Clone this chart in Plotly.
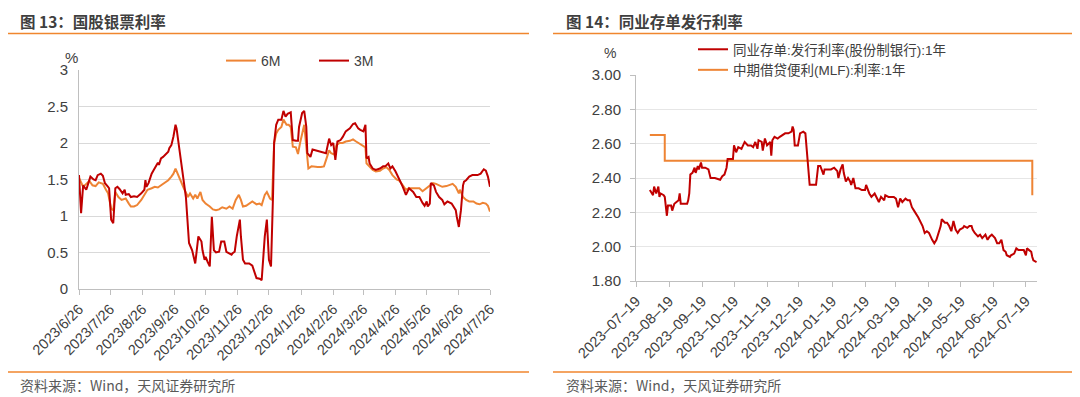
import plotly.graph_objects as go

# ---------------- data: 图13 国股银票利率 ----------------
dates_3m = [
    "2023-06-26", "2023-06-28", "2023-06-30", "2023-07-03", "2023-07-05", "2023-07-07", "2023-07-10",
    "2023-07-12", "2023-07-14", "2023-07-17", "2023-07-19", "2023-07-21", "2023-07-24", "2023-07-25",
    "2023-07-27", "2023-07-29", "2023-07-31", "2023-08-02", "2023-08-04", "2023-08-07", "2023-08-09",
    "2023-08-10", "2023-08-13", "2023-08-15", "2023-08-18", "2023-08-21", "2023-08-25", "2023-08-28",
    "2023-08-29", "2023-08-30", "2023-09-01", "2023-09-04", "2023-09-06", "2023-09-08", "2023-09-10",
    "2023-09-11", "2023-09-13", "2023-09-15", "2023-09-18", "2023-09-20", "2023-09-21", "2023-09-23",
    "2023-09-25", "2023-09-27", "2023-09-28", "2023-10-01", "2023-10-04", "2023-10-07", "2023-10-10",
    "2023-10-13", "2023-10-16", "2023-10-19", "2023-10-22", "2023-10-23", "2023-10-25", "2023-10-26",
    "2023-10-28", "2023-10-30", "2023-11-01", "2023-11-03", "2023-11-05", "2023-11-08", "2023-11-10",
    "2023-11-13", "2023-11-15", "2023-11-17", "2023-11-20", "2023-11-21", "2023-11-23", "2023-11-25",
    "2023-11-28", "2023-11-29", "2023-12-01", "2023-12-03", "2023-12-07", "2023-12-10", "2023-12-14",
    "2023-12-17", "2023-12-19", "2023-12-22", "2023-12-24", "2023-12-26", "2023-12-28", "2023-12-30",
    "2023-12-31", "2024-01-02", "2024-01-04", "2024-01-07", "2024-01-09", "2024-01-11", "2024-01-13",
    "2024-01-16", "2024-01-18", "2024-01-21", "2024-01-23", "2024-01-24", "2024-01-27", "2024-01-29",
    "2024-01-31", "2024-02-01", "2024-02-04", "2024-02-06", "2024-02-09", "2024-02-13", "2024-02-16",
    "2024-02-19", "2024-02-22", "2024-02-24", "2024-02-26", "2024-02-28", "2024-03-01", "2024-03-04",
    "2024-03-06", "2024-03-09", "2024-03-13", "2024-03-16", "2024-03-18", "2024-03-21", "2024-03-23",
    "2024-03-26", "2024-03-28", "2024-03-29", "2024-03-31", "2024-04-01", "2024-04-04", "2024-04-07",
    "2024-04-11", "2024-04-14", "2024-04-16", "2024-04-19", "2024-04-21", "2024-04-23", "2024-04-26",
    "2024-04-28", "2024-04-30", "2024-05-03", "2024-05-06", "2024-05-09", "2024-05-13", "2024-05-16",
    "2024-05-19", "2024-05-22", "2024-05-24", "2024-05-26", "2024-05-27", "2024-05-29", "2024-05-30",
    "2024-06-02", "2024-06-04", "2024-06-07", "2024-06-10", "2024-06-12", "2024-06-15", "2024-06-19",
    "2024-06-21", "2024-06-23", "2024-06-24", "2024-06-26", "2024-06-27", "2024-06-28", "2024-06-30",
    "2024-07-01", "2024-07-03", "2024-07-06", "2024-07-09", "2024-07-14", "2024-07-17", "2024-07-20",
    "2024-07-22", "2024-07-24", "2024-07-26",
]
rate_3m = [
    1.56, 1.04, 1.42, 1.36, 1.45, 1.54, 1.50,
    1.49, 1.56, 1.58, 1.55, 1.45, 1.40, 1.38,
    0.95, 0.90, 1.38, 1.40, 1.37, 1.31, 1.36,
    1.29, 1.30, 1.26, 1.27, 1.26, 1.31, 1.36,
    1.49, 1.40, 1.45, 1.58, 1.63, 1.68, 1.73,
    1.70, 1.79, 1.81, 1.85, 1.88, 1.93, 1.97,
    2.09, 2.25, 2.20, 1.90, 1.58, 1.26, 0.63,
    0.53, 0.35, 0.72, 0.65, 0.53, 0.40, 0.44,
    0.37, 0.31, 0.99, 0.53, 0.50, 0.51, 0.65,
    0.65, 0.51, 0.49, 0.47, 0.49, 0.51, 0.72,
    0.95, 0.72, 0.40, 0.35, 0.35, 0.32, 0.15,
    0.14, 0.12, 0.72, 0.95, 0.40, 0.31, 1.31,
    2.00, 2.25, 2.32, 2.32, 2.44, 2.36, 2.40,
    2.42, 2.04, 2.03, 2.03, 2.22, 2.41, 2.44,
    2.22, 1.86, 1.81, 1.91, 1.90, 1.88, 1.87,
    1.86, 2.06, 1.97, 2.00, 1.77, 2.02, 2.04,
    2.08, 2.16, 2.20, 2.26, 2.27, 2.20, 2.18,
    2.16, 2.25, 1.79, 1.81, 1.72, 1.65, 1.63,
    1.65, 1.68, 1.68, 1.72, 1.65, 1.68, 1.61,
    1.56, 1.49, 1.40, 1.29, 1.38, 1.33, 1.26,
    1.26, 1.18, 1.14, 1.20, 1.13, 1.17, 1.45,
    1.42, 1.33, 1.26, 1.22, 1.16, 1.20, 1.17,
    1.13, 1.08, 0.99, 0.85, 0.97, 1.08, 1.42,
    1.47, 1.49, 1.54, 1.56, 1.56, 1.58, 1.64,
    1.62, 1.54, 1.40,
]

dates_6m = [
    "2023-06-26", "2023-06-30", "2023-07-03", "2023-07-06", "2023-07-09", "2023-07-12", "2023-07-15",
    "2023-07-19", "2023-07-22", "2023-07-24", "2023-07-27", "2023-07-29", "2023-07-31", "2023-08-03",
    "2023-08-06", "2023-08-10", "2023-08-13", "2023-08-15", "2023-08-18", "2023-08-21", "2023-08-25",
    "2023-08-28", "2023-08-31", "2023-09-04", "2023-09-07", "2023-09-10", "2023-09-13", "2023-09-16",
    "2023-09-20", "2023-09-23", "2023-09-25", "2023-09-27", "2023-09-29", "2023-10-02", "2023-10-05",
    "2023-10-09", "2023-10-11", "2023-10-14", "2023-10-16", "2023-10-18", "2023-10-21", "2023-10-23",
    "2023-10-26", "2023-10-30", "2023-11-02", "2023-11-05", "2023-11-08", "2023-11-11", "2023-11-15",
    "2023-11-18", "2023-11-21", "2023-11-24", "2023-11-27", "2023-11-29", "2023-12-01", "2023-12-04",
    "2023-12-07", "2023-12-10", "2023-12-14", "2023-12-17", "2023-12-19", "2023-12-22", "2023-12-24",
    "2023-12-27", "2023-12-29", "2023-12-31", "2024-01-02", "2024-01-04", "2024-01-07", "2024-01-09",
    "2024-01-12", "2024-01-14", "2024-01-16", "2024-01-18", "2024-01-21", "2024-01-23", "2024-01-25",
    "2024-01-28", "2024-01-29", "2024-01-31", "2024-02-02", "2024-02-05", "2024-02-08", "2024-02-11",
    "2024-02-14", "2024-02-17", "2024-02-20", "2024-02-22", "2024-02-24", "2024-02-27", "2024-02-29",
    "2024-03-03", "2024-03-06", "2024-03-09", "2024-03-13", "2024-03-16", "2024-03-19", "2024-03-22",
    "2024-03-26", "2024-03-28", "2024-03-29", "2024-04-01", "2024-04-04", "2024-04-07", "2024-04-11",
    "2024-04-14", "2024-04-17", "2024-04-20", "2024-04-23", "2024-04-27", "2024-04-30", "2024-05-03",
    "2024-05-06", "2024-05-09", "2024-05-13", "2024-05-16", "2024-05-19", "2024-05-22", "2024-05-26",
    "2024-05-29", "2024-06-01", "2024-06-04", "2024-06-07", "2024-06-10", "2024-06-14", "2024-06-17",
    "2024-06-20", "2024-06-23", "2024-06-26", "2024-06-27", "2024-06-30", "2024-07-03", "2024-07-06",
    "2024-07-10", "2024-07-13", "2024-07-16", "2024-07-19", "2024-07-22", "2024-07-24", "2024-07-26",
]
rate_6m = [
    1.52, 1.40, 1.44, 1.48, 1.42, 1.41, 1.46,
    1.44, 1.36, 1.31, 1.10, 1.08, 1.33, 1.26,
    1.22, 1.24, 1.17, 1.13, 1.13, 1.15, 1.22,
    1.29, 1.36, 1.38, 1.40, 1.39, 1.42, 1.45,
    1.49, 1.54, 1.58, 1.65, 1.58, 1.49, 1.38,
    1.26, 1.31, 1.24, 1.29, 1.24, 1.33, 1.22,
    1.17, 1.13, 1.09, 1.08, 1.09, 1.12, 1.10,
    1.13, 1.10, 1.22, 1.29, 1.22, 1.13, 1.14,
    1.17, 1.20, 1.16, 1.17, 1.15, 1.29, 1.33,
    1.24, 1.22, 2.00, 2.13, 2.18, 2.22, 2.32,
    2.25, 2.25, 2.22, 1.95, 1.94, 1.85, 2.00,
    2.20, 2.25, 1.95, 1.65, 1.68, 1.67, 1.67,
    1.67, 1.68, 1.81, 1.90, 1.86, 1.84, 1.97,
    2.00, 2.00, 2.02, 2.03, 2.05, 2.02, 1.99,
    1.96, 1.94, 1.72, 1.68, 1.63, 1.61, 1.62,
    1.65, 1.67, 1.63, 1.56, 1.50, 1.48, 1.42,
    1.36, 1.38, 1.38, 1.38, 1.38, 1.34, 1.38,
    1.41, 1.45, 1.44, 1.42, 1.40, 1.41, 1.42,
    1.44, 1.40, 1.31, 1.36, 1.26, 1.22, 1.20,
    1.20, 1.17, 1.16, 1.18, 1.17, 1.14, 1.06,
]

left_tick_dates = ["2023-06-26", "2023-07-26", "2023-08-26", "2023-09-26", "2023-10-26", "2023-11-26",
                   "2023-12-26", "2024-01-26", "2024-02-26", "2024-03-26", "2024-04-26", "2024-05-26",
                   "2024-06-26", "2024-07-26"]
left_tick_text = ["2023/6/26", "2023/7/26", "2023/8/26", "2023/9/26", "2023/10/26", "2023/11/26",
                  "2023/12/26", "2024/1/26", "2024/2/26", "2024/3/26", "2024/4/26", "2024/5/26",
                  "2024/6/26", "2024/7/26"]
left_y_ticks = [0, 0.5, 1, 1.5, 2, 2.5, 3]
left_y_text = ["0", "0.5", "1", "1.5", "2", "2.5", "3"]

# ---------------- data: 图14 同业存单发行利率 ----------------
dates_ncd = [
    "2023-08-01", "2023-08-02", "2023-08-04", "2023-08-05", "2023-08-07", "2023-08-09", "2023-08-10",
    "2023-08-11", "2023-08-14", "2023-08-15", "2023-08-17", "2023-08-18", "2023-08-21", "2023-08-22",
    "2023-08-24", "2023-08-26", "2023-08-28", "2023-08-29", "2023-08-30", "2023-09-01", "2023-09-05",
    "2023-09-06", "2023-09-07", "2023-09-08", "2023-09-10", "2023-09-12", "2023-09-13", "2023-09-15",
    "2023-09-16", "2023-09-18", "2023-09-19", "2023-09-22", "2023-09-25", "2023-09-27", "2023-10-01",
    "2023-10-06", "2023-10-08", "2023-10-10", "2023-10-12", "2023-10-13", "2023-10-15", "2023-10-18",
    "2023-10-19", "2023-10-21", "2023-10-23", "2023-10-26", "2023-10-29", "2023-11-01", "2023-11-04",
    "2023-11-06", "2023-11-08", "2023-11-10", "2023-11-11", "2023-11-14", "2023-11-15", "2023-11-17",
    "2023-11-19", "2023-11-22", "2023-11-23", "2023-11-24", "2023-11-26", "2023-11-29", "2023-12-01",
    "2023-12-03", "2023-12-06", "2023-12-09", "2023-12-12", "2023-12-13", "2023-12-14", "2023-12-15",
    "2023-12-18", "2023-12-20", "2023-12-23", "2023-12-25", "2023-12-27", "2023-12-29", "2024-01-01",
    "2024-01-04", "2024-01-06", "2024-01-08", "2024-01-11", "2024-01-12", "2024-01-15", "2024-01-18",
    "2024-01-21", "2024-01-24", "2024-01-25", "2024-01-27", "2024-01-29", "2024-01-30", "2024-02-01",
    "2024-02-03", "2024-02-05", "2024-02-06", "2024-02-08", "2024-02-10", "2024-02-13", "2024-02-16",
    "2024-02-19", "2024-02-20", "2024-02-23", "2024-02-25", "2024-02-28", "2024-03-01", "2024-03-03",
    "2024-03-05", "2024-03-08", "2024-03-09", "2024-03-12", "2024-03-14", "2024-03-17", "2024-03-19",
    "2024-03-21", "2024-03-23", "2024-03-25", "2024-03-28", "2024-03-30", "2024-04-01", "2024-04-03",
    "2024-04-05", "2024-04-07", "2024-04-09", "2024-04-13", "2024-04-15", "2024-04-17", "2024-04-19",
    "2024-04-22", "2024-04-24", "2024-04-26", "2024-04-28", "2024-04-30", "2024-05-01", "2024-05-04",
    "2024-05-06", "2024-05-08", "2024-05-10", "2024-05-12", "2024-05-14", "2024-05-16", "2024-05-18",
    "2024-05-21", "2024-05-22", "2024-05-25", "2024-05-27", "2024-05-29", "2024-05-30", "2024-06-01",
    "2024-06-04", "2024-06-06", "2024-06-08", "2024-06-11", "2024-06-13", "2024-06-15", "2024-06-17",
    "2024-06-20", "2024-06-22", "2024-06-24", "2024-06-26", "2024-06-28", "2024-06-30", "2024-07-01",
    "2024-07-04", "2024-07-05", "2024-07-08", "2024-07-10", "2024-07-12", "2024-07-15", "2024-07-17",
    "2024-07-19", "2024-07-20", "2024-07-22", "2024-07-24", "2024-07-25", "2024-07-26", "2024-07-29",
]
rate_ncd = [
    2.33, 2.32, 2.30, 2.35, 2.31, 2.35, 2.29,
    2.31, 2.30, 2.29, 2.18, 2.24, 2.24, 2.21,
    2.25, 2.26, 2.27, 2.31, 2.25, 2.25, 2.25,
    2.27, 2.31, 2.42, 2.43, 2.46, 2.43, 2.47,
    2.45, 2.49, 2.46, 2.46, 2.45, 2.40, 2.40,
    2.39, 2.41, 2.42, 2.46, 2.51, 2.51, 2.51,
    2.59, 2.55, 2.58, 2.57, 2.61, 2.59, 2.59,
    2.58, 2.61, 2.57, 2.62, 2.61, 2.56, 2.63,
    2.59, 2.61, 2.53, 2.62, 2.64, 2.63, 2.64,
    2.65, 2.66, 2.66, 2.67, 2.70, 2.68, 2.59,
    2.59, 2.66, 2.67, 2.66, 2.50, 2.36, 2.36,
    2.36, 2.47, 2.47, 2.42, 2.45, 2.45, 2.45,
    2.46, 2.44, 2.40, 2.45, 2.48, 2.43, 2.38,
    2.40, 2.38, 2.36, 2.40, 2.34, 2.34, 2.33,
    2.33, 2.36, 2.31, 2.29, 2.31, 2.28, 2.26,
    2.29, 2.27, 2.30, 2.29, 2.29, 2.29, 2.28,
    2.23, 2.28, 2.26, 2.28, 2.27, 2.27, 2.23,
    2.21, 2.19, 2.17, 2.12, 2.08, 2.09, 2.08,
    2.04, 2.02, 2.04, 2.08, 2.12, 2.16, 2.14,
    2.14, 2.12, 2.09, 2.15, 2.10, 2.08, 2.10,
    2.11, 2.12, 2.11, 2.12, 2.12, 2.10, 2.08,
    2.06, 2.07, 2.05, 2.07, 2.04, 2.06, 2.07,
    2.05, 2.02, 2.02, 2.04, 1.98, 1.97, 1.95,
    1.94, 1.95, 1.96, 1.99, 1.98, 1.98, 1.98,
    1.95, 1.99, 1.98, 1.97, 1.94, 1.92, 1.91,
]

dates_mlf = ["2023-08-01", "2023-08-15", "2024-07-25"]
rate_mlf = [2.65, 2.50, 2.30]

right_tick_dates = ["2023-07-19", "2023-08-19", "2023-09-19", "2023-10-19", "2023-11-19", "2023-12-19",
                    "2024-01-19", "2024-02-19", "2024-03-19", "2024-04-19", "2024-05-19", "2024-06-19",
                    "2024-07-19"]
right_tick_text = [d.replace("-", "\u2013") for d in right_tick_dates]
right_y_ticks = [1.8, 2.0, 2.2, 2.4, 2.6, 2.8, 3.0]

# ---------------- styling / layout ----------------
# the page body keeps an 8px margin, so the figure is 8px smaller and all
# positions below are given in full-window pixels and shifted by that offset
OFF = 8
W, H = 1080 - OFF, 397 - OFF
RED = "#C00000"
ORANGE = "#EE8434"
GRID = "#D9D9D9"
AXIS = "#BFBFBF"
TXT = "#404040"
NUMFONT = "Liberation Sans, Arial, Noto Sans CJK SC"
CJK = "Noto Sans CJK SC, Liberation Sans"


def px(x):
    return (x - OFF) / W


def py(y):
    return 1 - (y - OFF) / H


fig = go.Figure()

fig.add_trace(go.Scatter(x=dates_6m, y=rate_6m, name="6M", mode="lines",
                         line=dict(color=ORANGE, width=2), xaxis="x", yaxis="y", legend="legend"))
fig.add_trace(go.Scatter(x=dates_3m, y=rate_3m, name="3M", mode="lines",
                         line=dict(color=RED, width=2), xaxis="x", yaxis="y", legend="legend"))

fig.add_trace(go.Scatter(x=dates_mlf, y=rate_mlf, name="中期借贷便利(MLF):利率:1年", mode="lines",
                         line=dict(color=ORANGE, width=2, shape="hv"), xaxis="x2", yaxis="y2",
                         legend="legend2", legendrank=2))
fig.add_trace(go.Scatter(x=dates_ncd, y=rate_ncd, name="同业存单:发行利率(股份制银行):1年", mode="lines",
                         line=dict(color=RED, width=2), xaxis="x2", yaxis="y2",
                         legend="legend2", legendrank=1))

axis_common = dict(showgrid=False, showline=True, linecolor=AXIS, linewidth=1,
                   ticks="outside", ticklen=5, tickcolor=AXIS, tickangle=-45, automargin=False,
                   tickfont=dict(family=NUMFONT, size=14.5, color=TXT), zeroline=False)

fig.update_layout(
    width=W, height=H,
    margin=dict(l=0, r=0, t=0, b=0, pad=0),
    paper_bgcolor="white", plot_bgcolor="white",
    xaxis=dict(domain=[px(79), px(490)], type="date",
               range=["2023-06-26", "2024-07-26"],
               tickmode="array", tickvals=left_tick_dates, ticktext=left_tick_text,
               anchor="y", **axis_common),
    yaxis=dict(domain=[py(289), py(70)], range=[0, 3], tickmode="array",
               tickvals=left_y_ticks, ticktext=left_y_text, automargin=False,
               showgrid=True, gridcolor=GRID, gridwidth=1, showline=True, linecolor=AXIS,
               ticks="", zeroline=False, ticklabelstandoff=7,
               tickfont=dict(family=NUMFONT, size=15, color=TXT), anchor="x"),
    xaxis2=dict(domain=[px(636), px(1037)], type="date",
                range=["2023-07-19", "2024-07-29 10:00"],
                tickmode="array", tickvals=right_tick_dates, ticktext=right_tick_text,
                anchor="y2", **axis_common),
    yaxis2=dict(domain=[py(281), py(75)], range=[1.8, 3.0], tickmode="array",
                tickvals=right_y_ticks, tickformat=".2f", automargin=False,
                showgrid=True, gridcolor="#E6E6E6", gridwidth=1, showline=True, linecolor=AXIS,
                ticks="outside", ticklen=5, tickcolor=AXIS, zeroline=False, ticklabelstandoff=6,
                tickfont=dict(family=NUMFONT, size=15, color=TXT), anchor="x2"),
    legend=dict(orientation="h", x=px(221), y=py(61), xanchor="left", yanchor="middle",
                font=dict(family=NUMFONT, size=14, color=TXT), bgcolor="rgba(0,0,0,0)",
                entrywidth=48, entrywidthmode="pixels", borderwidth=0),
    legend2=dict(orientation="v", x=px(693), y=py(60), xanchor="left", yanchor="middle",
                 font=dict(family=NUMFONT, size=13.5, color=TXT), bgcolor="rgba(0,0,0,0)",
                 tracegroupgap=0, borderwidth=0),
    showlegend=True,
)

# divider lines
for x0, x1 in [(8, 529), (553, 1080)]:
    fig.add_shape(type="line", xref="paper", yref="paper", x0=px(x0), x1=px(x1), y0=py(33.5), y1=py(33.5),
                  line=dict(color="#F0862E", width=1.5))
    fig.add_shape(type="line", xref="paper", yref="paper", x0=px(x0), x1=px(x1), y0=py(372), y1=py(372),
                  line=dict(color="#F0862E", width=1.5))

annos = [
    dict(x=px(19), y=py(9), text="<b>图 13：国股银票利率</b>", size=15.5, color="#3F3F3F", fam=CJK, ya="top"),
    dict(x=px(565), y=py(9), text="<b>图 14：同业存单发行利率</b>", size=15.5, color="#3F3F3F", fam=CJK, ya="top"),
    dict(x=px(19), y=py(385), text="资料来源：Wind，天风证券研究所", size=14, color="#595959", fam=CJK, ya="middle"),
    dict(x=px(565), y=py(385), text="资料来源：Wind，天风证券研究所", size=14, color="#595959", fam=CJK, ya="middle"),
    dict(x=px(64), y=py(57), text="%", size=15, color=TXT, fam=NUMFONT, ya="middle"),
    dict(x=px(603), y=py(53), text="%", size=14, color=TXT, fam=NUMFONT, ya="middle"),
]
for a in annos:
    fig.add_annotation(x=a["x"], y=a["y"], xref="paper", yref="paper", text=a["text"], showarrow=False,
                       xanchor="left", yanchor=a["ya"], borderpad=0,
                       font=dict(family=a["fam"], size=a["size"], color=a["color"]))

fig.write_html("out.html")
